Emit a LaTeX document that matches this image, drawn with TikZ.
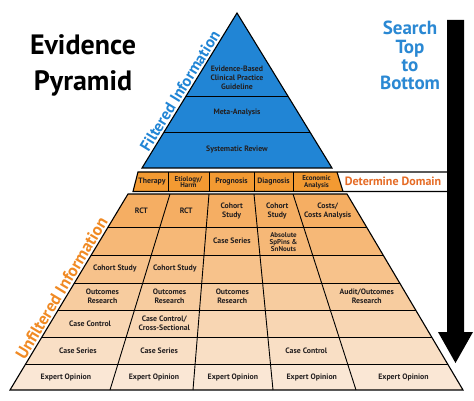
\documentclass[tikz,border=0pt]{standalone}
\usepackage{fontspec}
\setmainfont{PT Sans}
\definecolor{pblue}{HTML}{2185D5}
\definecolor{sblue}{HTML}{2A88D3}
\definecolor{dom}{HTML}{F39A32}
\definecolor{rowa}{HTML}{F5AE63}
\definecolor{rowb}{HTML}{F6B877}
\definecolor{rowc}{HTML}{F7C28B}
\definecolor{rowd}{HTML}{F7CC9F}
\definecolor{rowe}{HTML}{F8D6B3}
\definecolor{rowf}{HTML}{F9DFC5}
\definecolor{rowg}{HTML}{FAE7D5}
\definecolor{uorange}{HTML}{F08A24}
\definecolor{ddom}{HTML}{E56B25}
\definecolor{txt}{HTML}{231F20}
\begin{document}
\begin{tikzpicture}[x=1pt,y=-1pt,
  cell/.style={font=\bfseries\fontsize{7.8}{9}\selectfont, text=txt, align=center, inner sep=0pt},
  tiny/.style={font=\bfseries\fontsize{7}{6.8}\selectfont, text=txt, align=center, inner sep=0pt},
  grid/.style={line width=0.9pt, black},
  outline/.style={line width=1.1pt, black, line join=miter},
  titletext/.style={font=\bfseries\fontsize{28}{36}\selectfont, anchor=base, inner sep=0pt, text=black},
  searchtext/.style={font=\bfseries\fontsize{19}{19}\selectfont, anchor=base, inner sep=0pt, text=sblue},
]
\useasboundingbox (0,0) rectangle (474,401);
% ---------- blue filtered triangle
\fill[pblue] (237,13) -- (332,168) -- (142,168) -- cycle;
\draw[grid] (186.1,96) -- (287.9,96) (164.1,132) -- (309.9,132);
\draw[outline] (237,13) -- (332,168) -- (142,168) -- cycle;
% ---------- domain band
\fill[dom] (138,172) -- (337,172) -- (343,191.5) -- (133,191.5) -- cycle;
\draw[grid] (168,172) -- (168,191.5) (209,172) -- (209,191.5)
            (254,172) -- (254,191.5) (293,172) -- (293,191.5);
\draw[outline] (447,172) -- (138,172) -- (133,191.5) -- (447,191.5);
\draw[outline] (337,172) -- (343,191.5);
% ---------- unfiltered trapezoid
\begin{scope}
\clip (128,194) -- (347,194) -- (463,390) -- (10,390) -- cycle;
\fill[rowa] (0,194) rectangle (474,227);
\fill[rowb] (0,227) rectangle (474,255);
\fill[rowc] (0,255) rectangle (474,283);
\fill[rowd] (0,283) rectangle (474,310);
\fill[rowe] (0,310) rectangle (474,337);
\fill[rowf] (0,337) rectangle (474,364);
\fill[rowg] (0,364) rectangle (474,390);
\draw[grid] (0,227) -- (474,227) (0,255) -- (474,255) (0,283) -- (474,283)
            (0,310) -- (474,310) (0,337) -- (474,337) (0,364) -- (474,364);
\draw[grid] (170,194) -- (110,390) (209,194) -- (193,390)
            (254,194) -- (273,390) (293,194) -- (356,390);
\end{scope}
\draw[outline] (128,194) -- (347,194) -- (463,390) -- (10,390) -- cycle;
% ---------- arrow
\fill[black] (447,20) -- (464,20) -- (464,332) -- (473,332) -- (455.5,363)
             -- (438,332) -- (447,332) -- cycle;
% ---------- titles
\node[titletext] (t1) at (83,55) {Evidence};
\node[titletext] (t2) at (83,91) {Pyramid};
\node[searchtext] (s1) at (410,35) {Search};
\node[searchtext] (s2) at (410,53.3) {Top};
\node[searchtext] (s3) at (410,71.6) {to};
\node[searchtext] (s4) at (410,90) {Bottom};
\node[font=\bfseries\fontsize{16}{16}\selectfont, text=pblue, rotate=58.5, anchor=south, inner sep=0pt]
  (filt) at (185,94) {Filtered Information};
\node[font=\bfseries\fontsize{17}{17}\selectfont, text=uorange, rotate=59, anchor=south, inner sep=0pt]
  (unfilt) at (67,291.5) {Unfiltered Information};
\node[font=\bfseries\fontsize{12}{12}\selectfont, text=ddom, inner sep=0pt] (dd) at (393,181.5) {Determine Domain};
% ---------- blue cells
\node[cell] (b1) at (237,78) {Evidence-Based\\Clinical Practice\\Guideline};
\node[cell] (b2) at (237,113) {Meta-Analysis};
\node[cell] (b3) at (237,150) {Systematic Review};
% ---------- domain cells
\node[cell] (d1) at (152,181.5) {Therapy};
\node[tiny] (d2) at (188.5,182) {Etiology/\\Harm};
\node[cell] (d3) at (231.5,181.5) {Prognosis};
\node[cell] (d4) at (273.5,181.5) {Diagnosis};
\node[tiny] (d5) at (316.5,182) {Economic\\Analysis};
% ---------- row 1
\node[cell] (a1) at (141.4,210.5) {RCT};
\node[cell] (a2) at (186.2,210.5) {RCT};
\node[cell] (a3) at (231.7,211) {Cohort\\Study};
\node[cell] (a4) at (277.2,211) {Cohort\\Study};
\node[cell] (a5) at (327.7,211) {Costs/\\Costs Analysis};
% ---------- row 2
\node[cell] (e3) at (231.9,241) {Case Series};
\node[tiny] (e4) at (283.5,242) {Absolute\\SpPins \&\\SnNouts};
% ---------- row 3
\node[cell] (c1) at (114.9,269) {Cohort Study};
\node[cell] (c2) at (174.8,269) {Cohort Study};
% ---------- row 4
\node[cell] (o1) at (102.4,296.5) {Outcomes\\Research};
\node[cell] (o2) at (169.5,296.5) {Outcomes\\Research};
\node[cell] (o3) at (232.3,296.5) {Outcomes\\Research};
\node[cell] (o5) at (366.8,296.5) {Audit/Outcomes\\Research};
% ---------- row 5
\node[cell] (f1) at (90.1,323.5) {Case Control};
\node[cell] (f2) at (164.3,323.5) {Case Control/\\Cross-Sectional};
% ---------- row 6
\node[cell] (g1) at (77.9,350.5) {Case Series};
\node[cell] (g2) at (159.1,350.5) {Case Series};
\node[cell] (g4) at (306.3,350.5) {Case Control};
% ---------- row 7
\node[cell] (h1) at (65.9,377) {Expert Opinion};
\node[cell] (h2) at (154,377) {Expert Opinion};
\node[cell] (h3) at (232.9,377) {Expert Opinion};
\node[cell] (h4) at (311.8,377) {Expert Opinion};
\node[cell] (h5) at (403.5,377) {Expert Opinion};
\end{tikzpicture}
\end{document}
